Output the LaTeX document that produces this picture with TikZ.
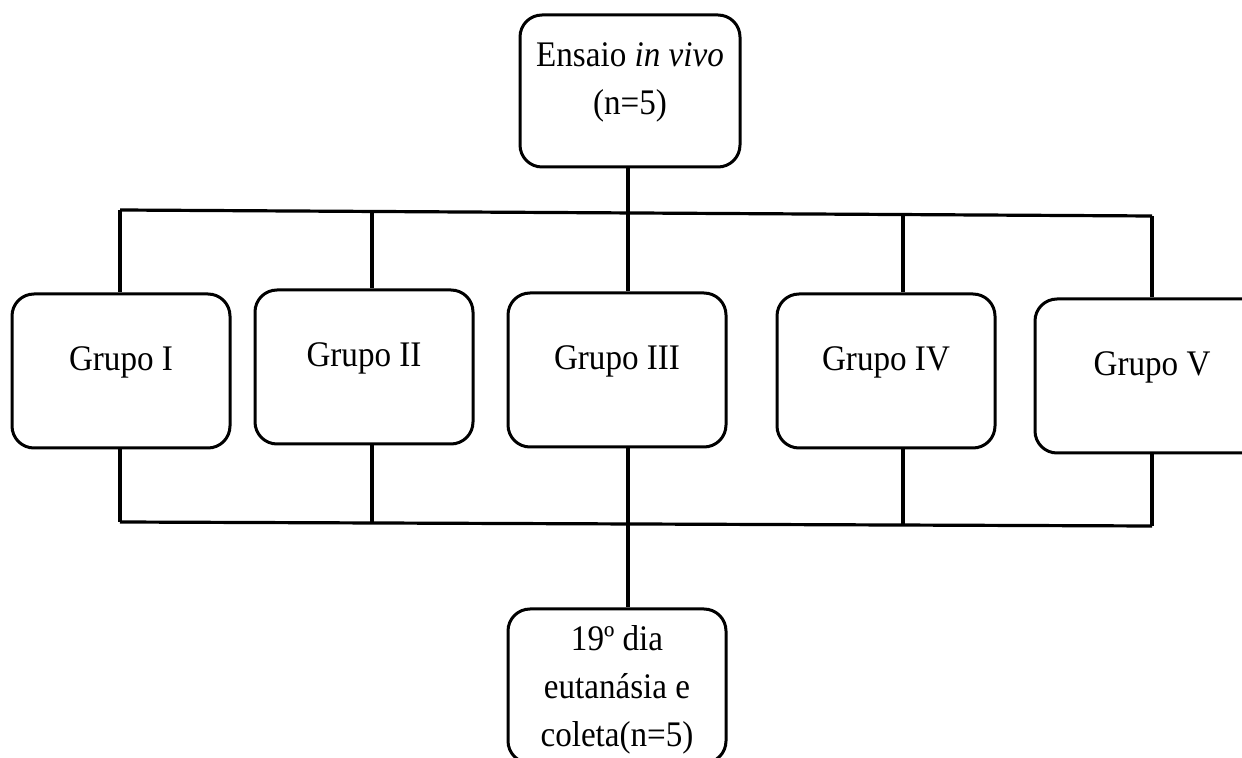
\documentclass[tikz,border=0pt]{standalone}
\usepackage{fontspec}
\setmainfont{Liberation Serif}[FakeStretch=0.92]
\usepackage{tikz}
\usetikzlibrary{positioning,calc}

\begin{document}
\begin{tikzpicture}[
  x=0.5pt, y=-0.5pt,
  every node/.style={font=\fontsize{18}{24}\selectfont},
  box/.style={draw, line width=1.5pt, rounded corners=11pt, minimum width=109pt, minimum height=77pt, align=center, text depth=12pt},
  wire/.style={line width=1.6pt}
]
\useasboundingbox (0,0) rectangle (1242,758);
\clip (0,0) rectangle (1242,758);

\node[box, minimum width=110pt, minimum height=76pt] (ens) at (630,91) {Ensaio \textit{in vivo}\\(n=5)};
\node[box] (g1) at (121,371) {Grupo I};
\node[box] (g2) at (364,367) {Grupo II};
\node[box] (g3) at (617,370) {Grupo III};
\node[box] (g4) at (886,371) {Grupo IV};
\node[box, minimum width=117pt] (g5) at (1152,376) {Grupo V};
\node[box, text depth=0pt] (col) at (617,686) {19º dia\\eutanásia e\\coleta(n=5)};

% barras de ligacao
\coordinate (t1) at (120,210);
\coordinate (t2) at (372,212);
\coordinate (t3) at (628,213);
\coordinate (t4) at (903,214);
\coordinate (t5) at (1152,216);
\coordinate (b1) at (120,522);
\coordinate (b2) at (372,522);
\coordinate (b3) at (628,523);
\coordinate (b4) at (903,524);
\coordinate (b5) at (1152,526);

\draw[wire] (ens.south -| t3) -- (t3);
\draw[wire] (t1) -- (t5);
\draw[wire] (b1) -- (b5);
\foreach \i in {1,...,5} {
  \draw[wire] (t\i) -- (t\i |- g\i.north);
  \draw[wire] (g\i.south -| b\i) -- (b\i);
}
\draw[wire] (b3) -- (b3 |- col.north);
\end{tikzpicture}
\end{document}
